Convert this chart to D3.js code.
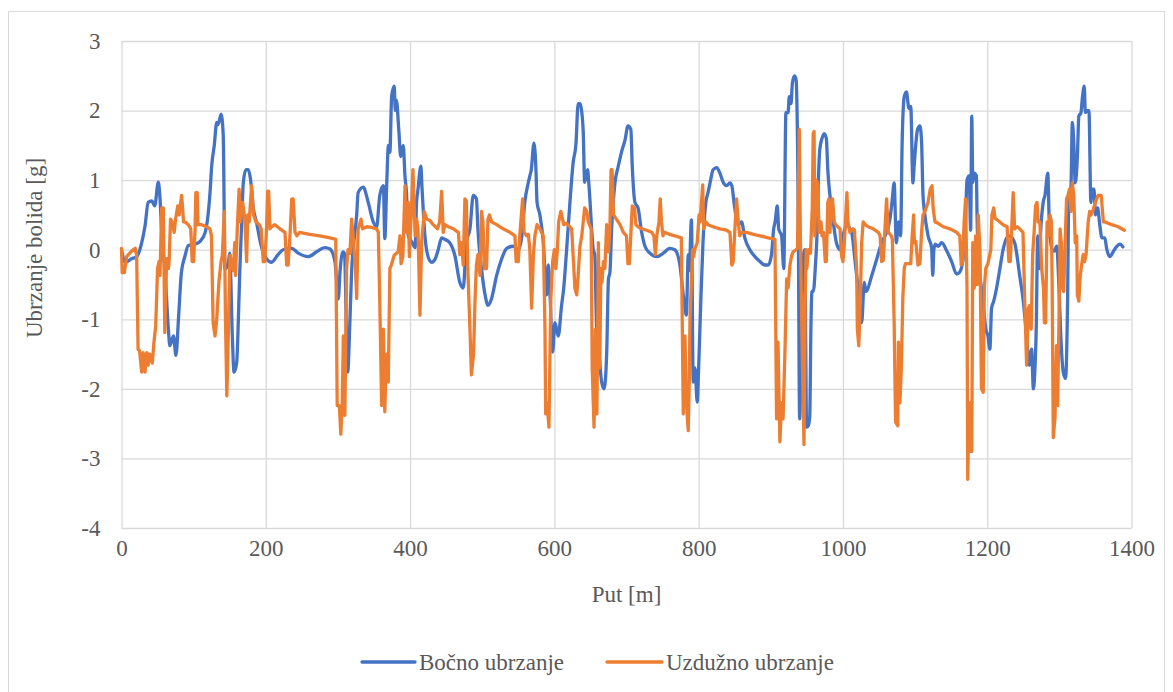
<!DOCTYPE html>
<html>
<head>
<meta charset="utf-8">
<script src="https://cdn.jsdelivr.net/npm/d3@7/dist/d3.min.js"></script>
<style>
  html, body { margin: 0; padding: 0; background: #fff; }
  svg { display: block; }
  text { font-family: "Liberation Serif", "Times New Roman", serif; fill: #595959; }
</style>
</head>
<body>
<svg id="chart" width="1173" height="692"></svg>
<script>
// ---- Data ----
const seriesNames = ["Bočno ubrzanje", "Uzdužno ubrzanje"];
const xTicks = [0, 200, 400, 600, 800, 1000, 1200, 1400];
const yTicks = [-4, -3, -2, -1, 0, 1, 2, 3];

// Bočno ubrzanje (lateral) — distance [m]
const latDist = [0,5,14,21,28,32.6,37,42,46,51,53,56,60,65,67,72,75.5,79,83,88,92.6,102,109,116,122.7,125,128.6,132,134,138,141,143.5,148,150,153.6,156,159.7,162,164,166.6,168.8,172.5,175.8,179,182.7,187,194,201,208,217,224,236,245,259,270.5,282,289,296,300.5,303,307,309,313.5,316.7,319,321,326,328,335,342,349,353.7,358,363,365,367.5,370,372,374.5,378,379.5,381,384.5,387,390.5,393,395,397.5,402,407,409,411,415,416.5,420.6,425,430,434.5,439,443.8,448,455,462,469,473.7,478,483,487.6,492,494,499,504,508,513,520,527,534,543,550,555,559,564,566,568,571.7,574.5,576,580,584.6,589.5,591.6,594,597.6,600.8,605.4,610,613,617,621.6,626,630,633,635.5,637,640,642,646,648,654,656,658.6,662,665.5,669,672.5,675,677,679.4,684,688.6,693,698,702,706,708,711.7,716,721,725.6,732.5,741.8,751,760,767,774,778.7,783,785.6,787,790,792.5,795,798,800,803,806,810,813,816.6,820,825,829.5,834,838.8,843.4,846,850,855,859.5,864,871,878,885,892,896.5,901,904,906,909,911,915,918,921,924,925.6,928,930,933,935,938,940,944,947,949.7,952,954,955.6,957,959,962,964,966,968,971,974,977,979,982,986.6,991,996,1000,1005,1012,1017,1021,1026,1029.5,1032,1040,1047,1053.6,1060.5,1065,1068,1071,1074,1077,1080,1082,1085,1088,1091.5,1094,1097,1099,1103.5,1106.7,1109,1111,1113,1118,1123,1124.5,1126,1128,1132,1137,1144,1150.7,1157.6,1162,1166,1169,1172,1175,1177,1178.6,1180,1182,1185,1186,1189,1192,1195,1198,1201,1203.7,1206,1209,1213,1217.6,1222,1227,1231,1238,1245,1250,1254.6,1258,1261.5,1264,1266,1268,1270,1272,1274,1277.6,1280,1284,1286,1290,1293,1296.3,1299.5,1302,1305.4,1308.6,1311.4,1313,1316,1318,1320,1322,1325,1327,1330,1331.7,1334.5,1336,1339,1341,1343.7,1345,1348,1350,1353,1356,1359,1363,1365.5,1370,1374.6,1379,1384,1388];
// Bočno ubrzanje — acceleration [g]
const latVal = [0,-0.18,-0.13,-0.1,0.1,0.34,0.68,0.7,0.63,0.97,0.8,0.2,-0.27,-1.14,-1.38,-1.24,-1.52,-0.99,-0.33,-0.09,0.06,0.08,0.12,0.25,0.82,1.2,1.5,1.83,1.8,1.95,1.65,-0.28,-0.2,-0.05,-1.23,-1.76,-1.62,-1.0,-0.3,0.39,0.96,1.15,1.15,1.0,0.6,0.4,0.04,-0.13,-0.18,-0.07,0,0.02,-0.05,-0.1,-0.03,0.03,0.01,-0.18,-0.71,-0.3,-0.03,-0.05,-1.76,-1.0,-0.3,0,0.5,0.82,0.9,0.68,0.4,0.33,0.78,0.92,0.16,0.9,1.5,1.4,2.21,2.35,2.0,2.15,1.7,1.34,1.5,1.05,0.82,0.2,0.12,0.03,0.68,0.87,1.2,0.9,0.2,-0.1,-0.18,-0.14,0,0.17,0.15,0.1,-0.08,-0.47,-0.55,0.1,0.3,0.78,0.73,0.3,-0.27,-0.65,-0.8,-0.7,-0.37,-0.13,0.02,0.05,0.0,0.2,0.68,0.97,1.06,1.15,1.53,1.15,0.68,0.5,0.12,-0.65,-0.22,-0.65,-1.47,-1.05,-1.24,-0.8,-0.55,0.0,0.68,1.25,1.53,2.1,2.1,2.05,1.7,0.97,1.15,0.92,0.0,-0.07,-1.14,-1.5,-1.9,-2.0,-1.5,-0.42,-0.33,0.3,0.96,1.2,1.4,1.58,1.78,1.73,1.2,0.68,0.6,0.25,0.05,-0.05,-0.1,-0.05,0.02,0.0,-0.22,-0.65,-0.94,-0.07,-0.3,0.43,-1.9,-1.7,-2.19,-1.7,-0.74,0.1,0.68,0.82,1.0,1.15,1.18,1.1,0.97,0.92,0.96,0.92,0.6,0.36,0.4,0.17,0.0,-0.1,-0.17,-0.22,-0.22,-0.07,0.3,0.4,0.63,0.3,0.2,-0.27,1.97,1.97,2.2,2.1,2.4,2.5,2.45,0.6,-2.43,-0.27,0.0,-2.55,-2.53,-2.4,-1.14,-0.6,-0.6,-0.2,0.2,1.0,1.45,1.6,1.67,1.6,1.15,0.78,0.4,0.1,0.0,0.2,0.35,0.25,-0.18,-0.55,-1.05,-0.47,-0.6,-0.37,-0.13,0.1,0.25,0.43,0.68,0.96,0.1,0.4,0.2,1.5,2.2,2.27,2.03,2.06,0.96,1.25,1.73,1.78,1.55,0.78,0.55,0.2,0.02,-0.37,0,0.08,0.05,0.1,-0.02,-0.17,-0.35,-0.32,-0.17,0.1,1.0,1.06,0.28,1.92,0.97,1.1,1.06,0.44,-0.27,-0.55,-0.84,-1.14,-1.24,-1.43,-0.84,-0.74,-0.55,-0.27,0.0,0.17,0.2,0.1,-0.37,-0.74,-1.24,-1.66,-1.43,-2.0,-1.75,-1.1,0.2,-0.27,0.25,0.68,0.78,1.1,0.4,0.0,-0.02,0.05,-0.55,-1.24,-1.76,-1.85,-0.74,0.68,0.87,1.83,1.53,0.96,1.34,1.92,1.97,2.16,2.35,1.97,2.0,2.0,0.68,0.87,0.87,0.5,0.6,0.36,0.17,0.17,0.02,-0.1,-0.03,0.04,0.08,0.04];

// Uzdužno ubrzanje (longitudinal) — distance [m]
const lonDist = [0,1,4,7,14,19,21,23,25,28,30,32.6,35,37,39,42.7,45,47.4,50,52,53.4,55.7,58,60,62.6,65,66,68,70,73,75,78,80,81,83.4,86,88,92.6,96,98,100,102,103,105,106,111,118,122.7,124.7,127,129.6,132,135,138,139.8,142.5,144,146,147,150.4,153,155,157,158,160.5,163,165,168,171,173.5,175,177,180.4,183,186.4,191,193.6,196.5,198.8,201,202.6,204,205.8,208,212.7,219.7,226.6,229,231,233.5,236,238,240.5,243,247,261,275,289,297,299,302,304,306,307.5,309.6,312,314,316.7,319,321,324.5,326,328,332,334,340,346.8,353.7,356,358,360.6,363,365,367,369.8,372,374,378,383.6,386,387.5,390,393,395,397.5,399,402,404,407,409,411,413.7,416,419.7,423,427.6,432,438,441,443.8,446,448.4,453,460,467,469,471.5,473.7,476,478,480,483,485,488,490,492,494,497,499,501,503,506,508,510,513,520,529,538.5,545.4,547,550,552,556,558,561.6,564,566,568.5,571,573,576,580,584.6,587,588,590,592.5,595,597.6,600,602,604,606,609,613,617,624,628.5,631,633,635.5,638,640,642,645,647,651,652.5,655,657,659,661,663,664.5,666,668,670,672.5,675,677,678.6,680,682,686,691,695.6,700,702,704,708,711,713,716,721,728,735,738,740,742,745,746.8,748.5,750.5,753,760,767,776,778.7,781,783,785.6,787,788,791.6,793,795,798,800.6,802,805.6,807,810,813,820,829.5,838.8,843.4,846,848,850,852.6,855,857,859.5,866.5,876,885,896.5,905.8,908,910,912.6,915,917,919.6,922,924,926.6,929,931,935,937,939.5,941,944,946,947.6,949,950,952,955,957.5,958.8,960,961,963,965,967,969.6,971,973,975.5,977,979,980.5,982,984,985.6,988,990,996,998,1000,1001.5,1003.5,1005.5,1007,1009.6,1014,1016,1019,1020,1022,1024,1026,1028,1031,1035,1042,1049,1051.5,1053.6,1056,1058,1060.5,1063,1067,1068.5,1071,1073,1076,1077,1079,1081,1083,1085,1086.6,1090,1094,1096,1098,1099,1101,1104,1106.7,1109,1111,1113.6,1118,1121,1123.5,1125,1127.6,1132,1139,1148.5,1157.6,1162,1164,1166,1168,1170,1172,1173,1175,1176,1178.6,1180,1182,1184,1186,1187.6,1190,1192,1194.5,1196,1198,1201,1203,1205,1206.5,1209,1211,1215,1222,1227.6,1230,1232,1234,1236,1238,1241.6,1245,1249.6,1252,1254.6,1257,1259,1261,1263,1265,1267,1269,1270.7,1273,1275.5,1278,1279.3,1281,1283,1285,1287,1289,1290,1291.6,1294,1296,1297.6,1299.4,1301,1302.7,1304.4,1306,1308.6,1310,1312,1314,1316,1318,1320,1322,1324,1325,1327,1329,1330.8,1333,1335,1337,1340,1342,1344,1346,1350,1353.6,1356,1358,1361,1363,1372.5,1381.6,1390];
// Uzdužno ubrzanje — acceleration [g]
const lonVal = [0.02,-0.33,-0.33,-0.1,-0.02,0.02,-0.08,-1.43,-1.45,-1.76,-1.48,-1.76,-1.48,-1.66,-1.5,-1.63,-1.33,-1.1,-0.27,-0.17,-0.37,0.6,0.6,-1.19,-0.13,-0.27,-0.17,0.44,0.4,0.25,0.44,0.63,0.5,0.6,0.78,0.4,0.4,0.36,0.3,-0.17,-0.17,0.3,0.82,0.82,0.36,0.36,0.33,0.3,0.2,-1.05,-1.24,-1.0,-0.47,-0.17,-0.08,0.55,-0.9,-2.1,-1.7,-0.08,-0.2,-0.3,0.1,-0.37,0.3,0.87,0.4,0.68,0.44,-0.17,0.5,0.4,0.92,0.5,0.4,0.36,0.3,-0.17,-0.17,0.3,0.84,0.84,0.3,0.33,0.36,0.3,0.25,-0.22,-0.22,0.2,0.73,0.73,0.25,0.2,0.25,0.22,0.2,0.17,0.15,-2.24,-2.24,-2.65,-2.2,-1.24,-2.38,-0.27,0.0,-0.05,0.44,0.2,-0.3,-0.7,0.3,0.44,0.3,0.33,0.32,0.3,0.25,-0.74,-2.24,-1.14,-2.33,-1.5,-1.9,-0.27,-0.22,-0.08,-0.03,0.2,-0.2,-0.1,0.92,0.25,0.68,-0.1,0.6,1.15,0.2,0.44,0.3,-0.94,0.1,0.55,0.44,0.42,0.36,0.3,0.4,0.84,0.25,0.36,0.33,0.3,0.25,-0.07,0.1,-0.22,0.73,0.7,-0.27,-1.14,-1.8,-1.5,-0.74,-0.22,-0.07,-0.37,0.55,0.4,-0.27,-0.27,0.44,0.5,0.4,0.36,0.3,0.25,0.2,-0.17,-0.17,0.2,0.73,0.25,0.2,0.22,0.0,-0.84,-0.07,0.2,0.36,0.3,0.2,-1.14,-2.36,-2.2,-2.55,-0.74,-0.17,0.0,-0.27,-0.02,0.4,0.55,0.36,0.38,0.3,-0.55,-0.65,-0.37,0.05,0.2,0.4,0.6,0.55,0.4,0.3,-1.7,-2.55,-1.14,-2.36,0.1,-1.7,-0.27,-0.47,-0.17,-0.27,0.36,-0.03,0.3,1.15,1.15,0.5,0.44,0.36,0.25,0.2,-0.2,-0.2,0.63,0.6,0.36,0.33,0.3,0.28,0.25,0.2,-0.07,0.2,0.4,0.73,0.4,0.2,0.25,0.22,0.2,0.17,-2.36,-1.24,-2.2,-2.6,-1.9,-1.0,0.0,-0.1,0.02,0.1,0.5,0.4,0.93,0.3,0.4,0.36,0.33,0.3,0.28,0.25,-0.22,-0.17,0.25,0.73,0.4,0.2,0.25,0.25,0.22,0.2,0.17,0.15,-2.43,-1.33,-2.76,-2.2,-2.43,-1.48,-0.42,-0.55,-0.22,-0.08,-0.03,0.0,0.02,1.73,0.2,-1.7,-2.8,-0.74,0.0,-0.27,0.0,-0.05,0.6,1.67,1.7,0.2,1.0,0.96,0.25,0.4,0.2,0.25,-0.17,-0.17,0.68,0.73,0.25,0.6,0.73,0.4,0.36,0.3,-0.08,-0.17,0.0,0.4,0.82,0.4,0.25,0.3,0.28,-0.27,-1.14,-1.38,-0.74,0.1,0.4,0.36,0.33,0.3,0.25,0.2,-0.17,-0.15,0.25,0.73,0.25,0.2,0.15,-1.05,-2.48,-2.53,-1.33,-2.2,-1.7,-0.7,-0.27,-0.2,-0.2,-0.2,0.2,0.5,0.1,0.12,-0.22,-0.2,0.25,0.5,0.55,0.68,0.87,0.92,0.6,0.4,0.38,0.33,0.3,0.25,0.2,-0.22,-0.17,0.4,0.73,-0.55,-3.3,-2.2,-2.9,-2.9,0.1,-0.55,0.2,-0.5,0.5,0.0,-2.0,-2.05,-0.55,-0.27,-0.2,-0.1,0.0,0.5,0.6,0.45,0.42,0.36,0.33,-0.17,-0.17,0.3,0.82,0.3,0.33,0.3,0.25,-0.74,-1.66,-0.84,-0.8,-1.14,-0.07,0.25,0.63,0.68,0.4,0.4,-0.27,-0.55,-1.05,-1.05,0.4,0.2,0.5,0.4,-0.47,-2.7,-2.4,-1.38,-2.24,-1.05,0.3,0.1,-0.55,-0.6,0.3,0.73,0.78,0.87,0.55,0.96,0.78,0.1,0.2,-0.65,-0.74,-0.37,-0.22,-0.07,-0.17,-0.07,0.4,0.55,0.5,0.55,0.68,0.78,0.78,0.78,0.4,0.4,0.36,0.33,0.28];

const colors = ["#4472C4", "#ED7D31"];
const serif = '"Liberation Serif", "Times New Roman", serif';

// ---- Drawing ----
const svg = d3.select("#chart");
const plot = { left: 121.5, right: 1131.5, top: 41, bottom: 528 };

// chart area border
svg.append("rect")
  .attr("x", 8.5).attr("y", 11.5).attr("width", 1156).attr("height", 690)
  .attr("fill", "#fff").attr("stroke", "#D9D9D9").attr("stroke-width", 1);

const x = d3.scaleLinear().domain([0, 1400]).range([plot.left, plot.right]);
const y = d3.scaleLinear().domain([-4, 3]).range([plot.bottom, plot.top]);

// gridlines
const gridY = svg.append("g").attr("transform", `translate(${plot.left},0)`)
  .call(d3.axisLeft(y).tickValues(yTicks).tickSize(-(plot.right - plot.left)).tickFormat(""));
gridY.select(".domain").remove();
gridY.selectAll("line").attr("stroke", "#D9D9D9").attr("stroke-width", 1.3);

const gridX = svg.append("g").attr("transform", `translate(0,${plot.bottom})`)
  .call(d3.axisBottom(x).tickValues(xTicks).tickSize(-(plot.bottom - plot.top)).tickFormat(""));
gridX.select(".domain").remove();
gridX.selectAll("line").attr("stroke", "#D9D9D9").attr("stroke-width", 1.3);

// tick labels
const fs = 23;
const fmt = d => String(d);
const axX = svg.append("g").attr("transform", `translate(0,${plot.bottom})`)
  .attr("font-family", serif)
  .call(d3.axisBottom(x).tickValues(xTicks).tickSize(0).tickPadding(12).tickFormat(fmt));
axX.attr("font-family", serif).attr("font-size", fs);
axX.select(".domain").remove();
axX.selectAll("text").style("font-size", fs + "px").attr("fill", "#595959").style("font-family", serif);

const axY = svg.append("g").attr("transform", `translate(${plot.left},0)`)
  .call(d3.axisLeft(y).tickValues(yTicks).tickSize(0).tickPadding(21).tickFormat(fmt));
axY.attr("font-family", serif).attr("font-size", fs);
axY.select(".domain").remove();
axY.selectAll("text").style("font-size", fs + "px").attr("fill", "#595959").style("font-family", serif);

// axis titles
svg.append("text").attr("x", (plot.left + plot.right) / 2).attr("y", 594)
  .attr("text-anchor", "middle").attr("dominant-baseline", "central")
  .style("font-size", "23px").text("Put [m]");
svg.append("text").attr("transform", "translate(34,248) rotate(-90)")
  .attr("text-anchor", "middle").attr("dominant-baseline", "central")
  .style("font-size", "23px").text("Ubrzanje bolida [g]");

// series
const latData = latDist.map((d, i) => [d, latVal[i]]);
const lonData = lonDist.map((d, i) => [d, lonVal[i]]);

const lineSmooth = d3.line().x(d => x(d[0])).y(d => y(d[1])).curve(d3.curveMonotoneX);
const lineSharp = d3.line().x(d => x(d[0])).y(d => y(d[1])).curve(d3.curveLinear);

svg.append("path").datum(latData).attr("d", lineSmooth)
  .attr("fill", "none").attr("stroke", colors[0]).attr("stroke-width", 3.3)
  .attr("stroke-linejoin", "round").attr("stroke-linecap", "round");
svg.append("path").datum(lonData).attr("d", lineSharp)
  .attr("fill", "none").attr("stroke", colors[1]).attr("stroke-width", 3.3)
  .attr("stroke-linejoin", "round").attr("stroke-linecap", "round");

// legend
const legendY = 662;
const legendItems = [
  { x1: 362, x2: 415, tx: 419 },
  { x1: 607, x2: 662, tx: 666 }
];
legendItems.forEach((it, i) => {
  svg.append("line").attr("x1", it.x1).attr("x2", it.x2).attr("y1", legendY).attr("y2", legendY)
    .attr("stroke", colors[i]).attr("stroke-width", 3.3).attr("stroke-linecap", "round");
  svg.append("text").attr("x", it.tx).attr("y", legendY).attr("dominant-baseline", "central")
    .style("font-size", "23px").text(seriesNames[i]);
});
</script>
</body>
</html>
